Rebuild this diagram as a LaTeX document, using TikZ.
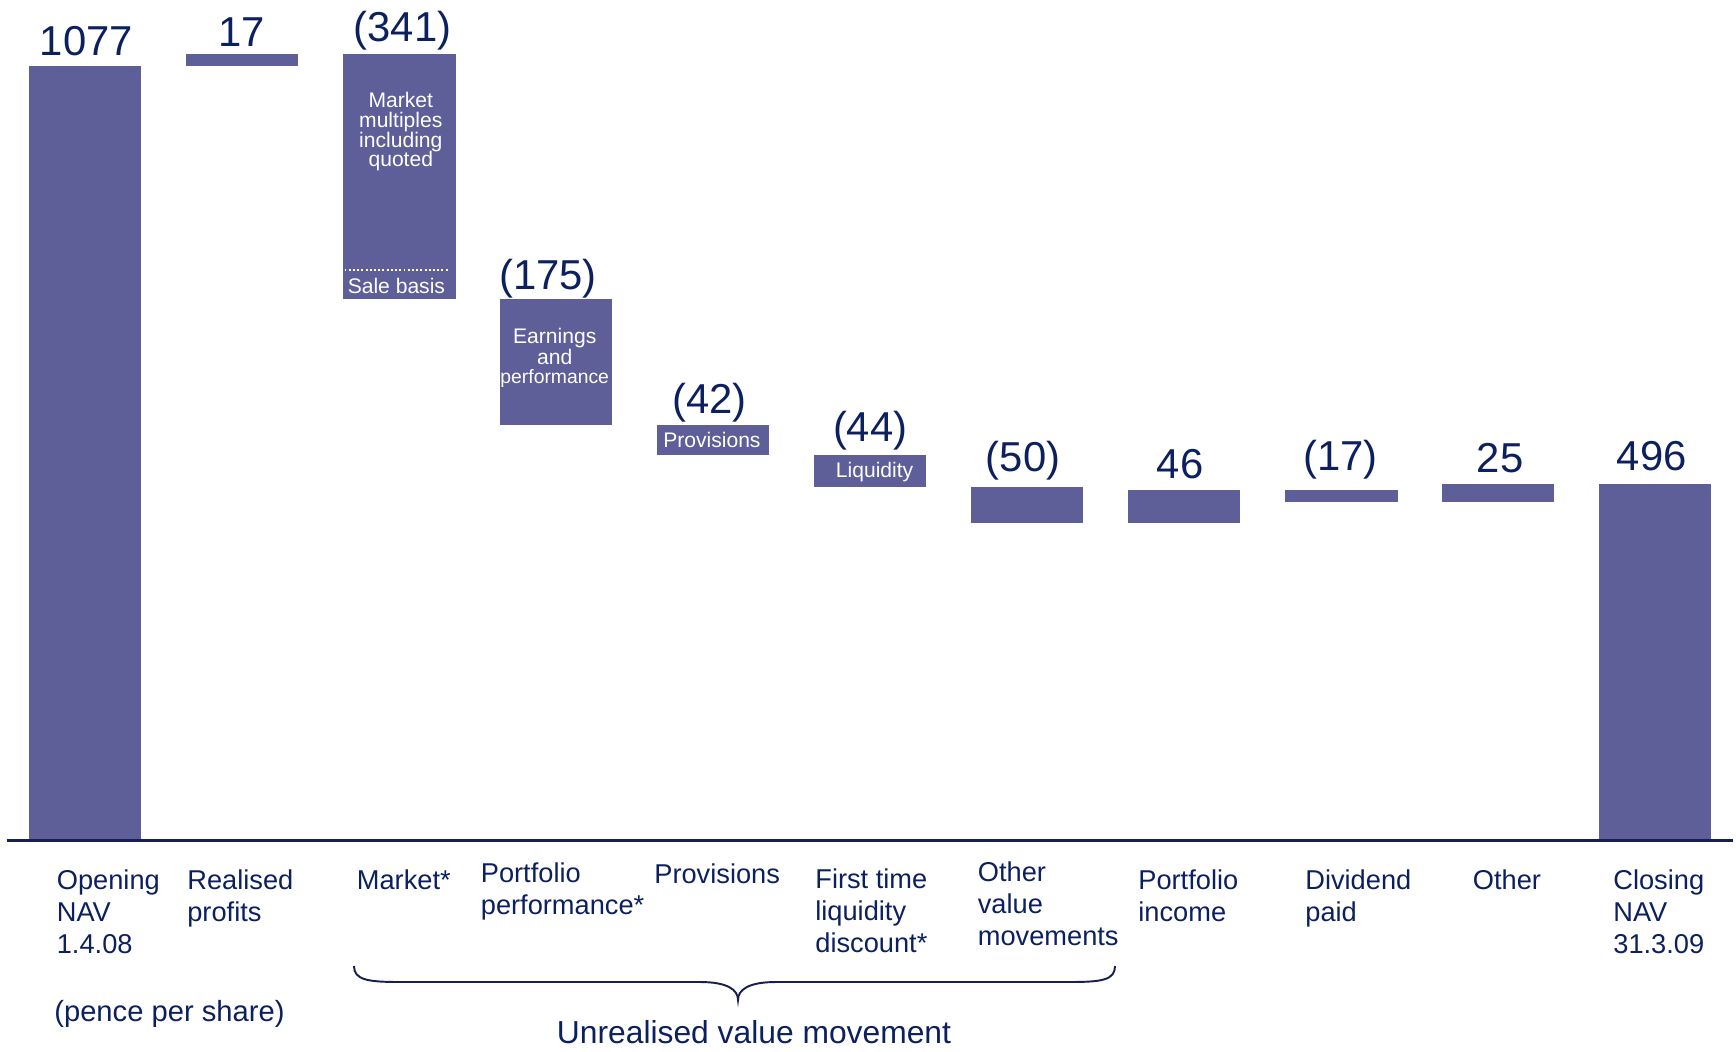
\documentclass[tikz,border=0pt]{standalone}
\usepackage{fontspec}
\setmainfont{Liberation Sans}
\definecolor{barblue}{RGB}{94,94,152}
\definecolor{navy}{RGB}{12,32,96}
\definecolor{axisnavy}{RGB}{22,30,82}
\begin{document}
\begin{tikzpicture}[x=0.02cm,y=-0.02cm,
  bar/.style={fill=barblue},
  val/.style={anchor=base,inner sep=0pt,text=navy,font=\fontsize{23.8}{26}\selectfont},
  cat/.style={anchor=north west,inner sep=0pt,text=navy,align=left,font=\fontsize{15.5}{18.2}\selectfont},
  inner/.style={inner sep=0pt,text=white,align=center,font=\fontsize{12}{11.3}\selectfont}]
\useasboundingbox (0,0) rectangle (1736,1051);
% bars
\fill[bar] (28.8,66.4) rectangle (140.8,840.3);
\fill[bar] (185.8,54.2) rectangle (297.8,66.4);
\fill[bar] (342.8,54.2) rectangle (455.8,299.2);
\fill[bar] (499.8,299.2) rectangle (611.8,424.9);
\fill[bar] (656.8,424.9) rectangle (768.8,455.1);
\fill[bar] (813.8,455.1) rectangle (925.8,486.7);
\fill[bar] (970.8,486.7) rectangle (1082.8,522.7);
\fill[bar] (1127.8,489.6) rectangle (1239.8,522.7);
\fill[bar] (1284.8,489.6) rectangle (1397.8,501.8);
\fill[bar] (1441.8,483.9) rectangle (1553.8,501.8);
\fill[bar] (1598.8,483.9) rectangle (1710.8,840.3);
% axis
\draw[axisnavy,line width=1.4pt] (6.6,840.3) -- (1732.6,840.3);
% values
\node[val] (v1) at (86.4,55.4) {1077};
\node[val] (v2) at (241.3,46.5) {17};
\node[val] (v3) at (402.5,42) {(341)};
\node[val] (v4) at (548,289) {(175)};
\node[val] (v5) at (709.7,413) {(42)};
\node[val] (v6) at (870.2,441.7) {(44)};
\node[val] (v7) at (1023,471.6) {(50)};
\node[val] (v8) at (1180.2,478) {46};
\node[val] (v9) at (1340.7,470.5) {(17)};
\node[val] (v10) at (1500.1,472.7) {25};
\node[val] (v11) at (1651.8,470.5) {496};
% inner texts
\node[inner] (t3) at (400.8,131.7) {Market\\multiples\\including\\quoted};
\draw[white,line width=0.9pt,dash pattern=on 1.1pt off 1.3pt] (344.5,270) -- (449,270);
\node[inner] (t3b) at (396.4,285.6) {Sale basis};
\node[inner,font=\fontsize{12}{10.7}\selectfont] (t4) at (554.7,357.6) {Earnings\\and\\{\fontsize{11}{10.7}\selectfont performance}};
\node[inner] (t5) at (711.9,439.5) {Provisions};
\node[inner] (t6) at (874.6,471.6) {Liquidity};
% category labels
\node[cat] (c1) at (56.5,869) {Opening\\NAV\\1.4.08};
\node[cat] (c2) at (187,869) {Realised\\profits};
\node[cat] (c3) at (356.5,869) {Market*};
\node[cat] (c4) at (480.5,862) {Portfolio\\performance*};
\node[cat] (c5) at (654,863.5) {Provisions};
\node[cat] (c6) at (815,868) {First time\\liquidity\\discount*};
\node[cat] (c7) at (977.5,861) {Other\\value\\movements};
\node[cat] (c8) at (1138,869) {Portfolio\\income};
\node[cat] (c9) at (1305,869) {Dividend\\paid};
\node[cat] (c10) at (1472.5,869) {Other};
\node[cat] (c11) at (1613,869) {Closing\\NAV\\31.3.09};
\node[cat,font=\fontsize{16.6}{19}\selectfont] (pps) at (54,1000) {(pence per share)};
% brace
\draw[axisnavy,line width=1.1pt] (354,966) .. controls (354,980) and (368,982) .. (400,982) -- (700,982) .. controls (728,982) and (738,990) .. (738,1000) .. controls (738,990) and (748,982) .. (776,982) -- (1070,982) .. controls (1102,982) and (1115,980) .. (1115,966);
\node[inner sep=0pt,text=navy,font=\fontsize{18.1}{20}\selectfont] (unr) at (754,1032) {Unrealised value movement};
\end{tikzpicture}
\end{document}
